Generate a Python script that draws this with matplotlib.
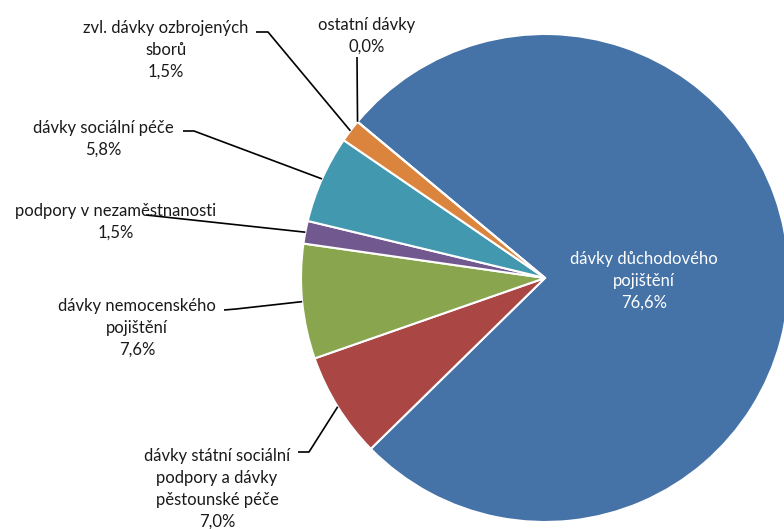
import matplotlib
matplotlib.use("Agg")
import matplotlib.pyplot as plt

# data (share of total, %), clockwise from the large slice
labels = [
    "dávky důchodového\npojištění",
    "dávky státní sociální\npodpory a dávky\npěstounské péče",
    "dávky nemocenského\npojištění",
    "podpory v nezaměstnanosti",
    "dávky sociální péče",
    "zvl. dávky ozbrojených\nsborů",
    "ostatní dávky",
]
values = [76.6, 7.0, 7.6, 1.5, 5.8, 1.5, 0.0]
colors = ["#4572A7", "#AA4643", "#89A54E", "#71588F", "#4198AF", "#DB843D", "#93A9CF"]

W, H = 784, 529
plt.rcParams["font.family"] = ["Lato", "DejaVu Sans"]

fig = plt.figure(figsize=(W / 100, H / 100), dpi=100)
ax = fig.add_axes([0, 0, 1, 1])


def px(x, y):
    # pixel position (top-left origin) -> data coords
    return x, H - y


cx, cy = px(545, 278)
R = 244
wedges, _ = ax.pie(values, colors=colors, startangle=140.2, counterclock=False,
                   center=(cx, cy), radius=R,
                   wedgeprops=dict(edgecolor="white", linewidth=1.5))
ax.set_xlim(0, W)
ax.set_ylim(0, H)
ax.set_aspect("equal")
ax.axis("off")

import numpy as np


def edge_point(w):
    a = np.deg2rad((w.theta1 + w.theta2) / 2)
    return cx + R * np.cos(a), cy + R * np.sin(a)


def fmt(v):
    return f"{v:.1f}".replace(".", ",") + "%"


# label text centre (pixels) and leader-line start points (pixels)
text_pos = [(644, 281), (217, 489), (137, 328), (116, 222), (103, 139), (166, 50), (367, 36)]
leaders = [
    None,
    [(298, 452), (309, 452)],
    [(224, 310), (236, 309)],
    [(146, 215)],
    [(183, 131), (194, 131)],
    [(256, 32), (268, 32)],
    [(357, 57)],
]

for i, (lab, v) in enumerate(zip(labels, values)):
    tx, ty = px(*text_pos[i])
    col = "white" if i == 0 else "#1a1a1a"
    ax.text(tx, ty, lab + "\n" + fmt(v), ha="center", va="center", fontsize=12,
            color=col, linespacing=1.45)
    if leaders[i]:
        pts = [px(*p) for p in leaders[i]] + [edge_point(wedges[i])]
        xs, ys = zip(*pts)
        ax.plot(xs, ys, color="black", lw=1.2, solid_capstyle="butt")

fig.savefig("out.png", dpi=100)
